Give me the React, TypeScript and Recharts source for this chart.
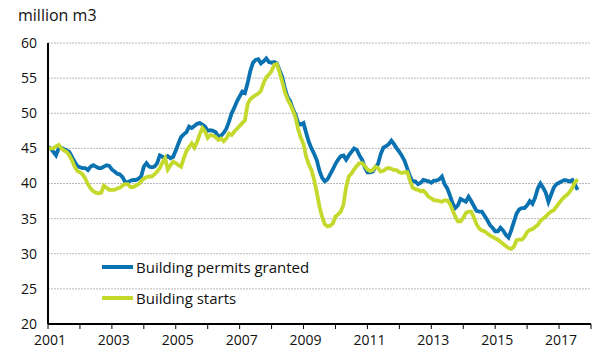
import { LineChart, Line, XAxis, YAxis, CartesianGrid } from 'recharts'

// monthly values, Jan 2001 onwards (million m3, moving sums)
const startYear = 2001

const permits = [
  45.2, 45.0, 44.5, 44.0, 45.0, 45.1, 44.9, 44.7, 44.5, 43.8, 43.1, 42.5,
  42.3, 42.2, 42.2, 41.9, 42.4, 42.6, 42.4, 42.2, 42.2, 42.4, 42.6, 42.5,
  42.0, 41.7, 41.4, 41.3, 40.9, 40.2, 40.2, 40.4, 40.5, 40.5, 40.7, 41.0,
  42.4, 42.9, 42.4, 42.3, 42.4, 42.9, 44.0, 43.8, 43.6, 43.9, 43.6, 43.8,
  44.7, 45.7, 46.6, 47.0, 47.3, 48.1, 47.9, 48.2, 48.5, 48.6, 48.4, 48.1,
  47.5, 47.6, 47.5, 47.3, 46.7, 46.8, 47.2, 47.8, 48.8, 50.0, 50.8, 51.7,
  52.4, 53.1, 52.9, 54.3, 56.0, 57.2, 57.6, 57.7, 57.1, 57.4, 57.8, 57.3,
  57.2, 57.3, 57.1, 56.1, 55.2, 53.5, 52.3, 51.7, 50.6, 49.8, 48.6, 48.4,
  48.6, 47.2, 45.9, 45.0, 44.2, 43.3, 41.8, 40.8, 40.3, 40.6, 41.3, 42.0,
  42.8, 43.4, 43.9, 44.0, 43.4, 44.0, 44.5, 45.0, 44.8, 44.0, 43.4, 42.3,
  41.6, 41.6, 41.7, 42.3, 42.8, 44.2, 45.1, 45.3, 45.6, 46.1, 45.6, 45.0,
  44.5, 43.9, 43.2, 42.1, 41.0, 40.3, 40.3, 39.9, 40.1, 40.5, 40.4, 40.3,
  40.1, 40.4, 40.4, 40.6, 41.0, 39.9, 39.3, 38.3, 37.2, 36.5, 36.9, 37.8,
  37.6, 37.4, 38.1, 37.5, 36.8, 36.1, 36.0, 36.0, 35.4, 34.8, 34.1, 33.7,
  33.2, 33.2, 33.7, 33.3, 32.7, 32.3, 33.3, 34.5, 35.7, 36.3, 36.5, 36.5,
  36.9, 37.5, 37.1, 38.0, 39.3, 40.0, 39.4, 38.7, 37.4, 38.4, 39.4, 39.9,
  40.1, 40.3, 40.5, 40.4, 40.3, 40.5, 39.8, 39.1,
]

const starts = [
  45.0, 45.0, 45.0, 45.3, 45.5, 45.0, 44.7, 44.5, 44.0, 43.3, 42.4, 41.8,
  41.6, 41.3, 40.7, 39.9, 39.3, 38.9, 38.7, 38.6, 38.7, 39.7, 39.4, 39.1,
  39.1, 39.1, 39.3, 39.4, 39.7, 39.9, 39.9, 39.5, 39.5, 39.7, 39.9, 40.3,
  40.7, 40.9, 41.0, 41.0, 41.3, 41.7, 42.2, 43.0, 43.6, 42.0, 42.6, 43.1,
  42.9, 42.6, 42.4, 43.6, 44.6, 45.2, 45.7, 45.1, 45.9, 47.0, 47.9, 47.4,
  46.5, 46.9, 46.8, 46.6, 46.2, 46.4, 46.0, 46.4, 47.1, 46.9, 47.4, 47.8,
  48.2, 48.6, 49.0, 51.3, 52.0, 52.3, 52.6, 52.8, 53.2, 54.3, 55.1, 55.5,
  56.0, 56.9, 57.0, 55.8, 54.5, 53.0, 52.0, 51.3, 50.4, 49.4, 47.7, 46.5,
  45.6, 43.8, 42.7, 41.9, 40.5, 38.7, 36.7, 35.2, 34.2, 33.9, 34.0, 34.3,
  35.3, 35.6, 36.0, 37.0, 39.5, 41.0, 41.4, 42.0, 42.5, 42.9, 42.9, 42.5,
  42.0, 41.8, 41.9, 42.4, 42.2, 41.7, 41.8, 42.1, 42.2, 42.1, 41.9, 41.9,
  41.6, 41.5, 41.6, 41.6, 40.4, 39.4, 39.2, 39.1, 38.9, 39.0, 38.6, 38.1,
  37.9, 37.6, 37.6, 37.5, 37.4, 37.6, 37.6, 37.1, 36.2, 35.3, 34.6, 34.6,
  35.1, 35.8, 36.0, 36.0, 35.2, 34.2, 33.6, 33.3, 33.2, 32.9, 32.6, 32.4,
  32.2, 32.0, 31.7, 31.4, 31.1, 30.8, 30.7, 31.0, 31.9, 32.0, 32.0, 32.4,
  33.1, 33.4, 33.5, 33.8, 34.1, 34.7, 35.0, 35.3, 35.7, 36.0, 36.2, 36.7,
  37.2, 37.7, 38.1, 38.4, 38.8, 39.4, 40.2, 40.6,
]

const yearTicks = [2001, 2002, 2003, 2004, 2005, 2006, 2007, 2008, 2009, 2010, 2011, 2012, 2013, 2014, 2015, 2016, 2017, 2018]
const valueTicks = [20, 25, 30, 35, 40, 45, 50, 55, 60]

const seriesNames = ['Building permits granted', 'Building starts']
const BLUE = '#0a72b0'
const GREEN = '#c5d92d'
const FONT = '"Open Sans", "Noto Sans", sans-serif'

const data = permits.map((p, i) => ({
  t: startYear + i / 12,
  permits: p,
  starts: starts[i],
}))

function LegendBox() {
  const items = [
    { name: seriesNames[0], color: BLUE },
    { name: seriesNames[1], color: GREEN },
  ]
  return (
    <div style={{ position: 'absolute', left: 102, top: 251, fontFamily: FONT, fontSize: 15, color: '#111' }}>
      {items.map((it) => (
        <div key={it.name} style={{ display: 'flex', alignItems: 'center', height: 31, whiteSpace: 'nowrap' }}>
          <span style={{ display: 'inline-block', width: 31, height: 4, background: it.color, marginRight: 3 }} />
          <span>{it.name}</span>
        </div>
      ))}
    </div>
  )
}

export default function App() {
  return (
    <div style={{ position: 'absolute', left: 0, top: 0, width: 614, height: 363, background: '#fff' }}>
      <div style={{ position: 'absolute', left: 18, top: 4, fontFamily: FONT, fontSize: 16, color: '#111' }}>
        million m3
      </div>
      <LineChart width={614} height={363} data={data} margin={{ top: 43, right: 23, left: 0, bottom: 9 }}>
        <CartesianGrid vertical={false} stroke="#b8b8b8" strokeDasharray="2 1" />
        <XAxis
          dataKey="t"
          type="number"
          domain={[2001, 2018]}
          ticks={yearTicks}
          interval={0}
          tickFormatter={(v: number) => (v % 2 === 1 && v < 2018 ? String(v) : '')}
          tick={{ fontSize: 14, fill: '#111', fontFamily: FONT, dx: 2 }}
          axisLine={{ stroke: '#000', strokeWidth: 2 }}
          tickLine={{ stroke: '#000', strokeWidth: 1 }}
          tickSize={5}
          tickMargin={6}
          height={30}
        />
        <YAxis
          domain={[20, 60]}
          ticks={valueTicks}
          interval={0}
          width={48}
          tick={{ fontSize: 14, fill: '#111', fontFamily: FONT }}
          axisLine={{ stroke: '#000', strokeWidth: 2 }}
          tickLine={false}
          tickSize={0}
          tickMargin={11}
        />
        <Line
          type="linear"
          dataKey="permits"
          name={seriesNames[0]}
          stroke={BLUE}
          strokeWidth={3.8}
          dot={false}
          isAnimationActive={false}
        />
        <Line
          type="linear"
          dataKey="starts"
          name={seriesNames[1]}
          stroke={GREEN}
          strokeWidth={3.8}
          dot={false}
          isAnimationActive={false}
        />
      </LineChart>
      <LegendBox />
    </div>
  )
}
